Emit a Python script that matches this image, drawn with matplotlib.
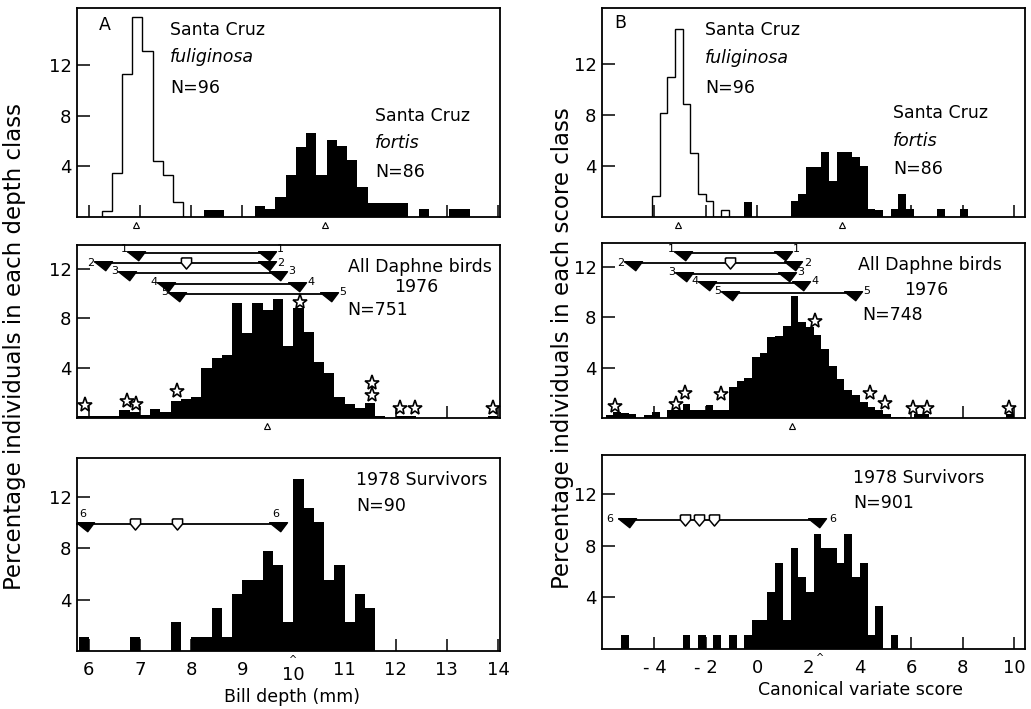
import numpy as np
import matplotlib.pyplot as plt
from matplotlib import transforms

W, H = 1031, 709
fig = plt.figure(figsize=(W / 100, H / 100), dpi=100)

# ---------------- data (percent of individuals per class) ----------------
# A: bill depth (mm), class width 0.2
a_fulig_start = 6.25
a_fulig = [0.5, 3.5, 11.3, 15.8, 13.1, 4.4, 3.3, 1.2]
a_fortis_start = 8.25
a_fortis = [0.55, 0.55, 0, 0, 0, 0.9, 0.6, 1.6, 3.3, 5.5, 6.6, 3.3, 6.1, 5.6,
            4.5, 2.4, 1.1, 1.1, 1.1, 1.1, 0, 0.6, 0, 0, 0.6, 0.6]
a_daphne_start = 5.6
a_daphne = [0.2, 0.2, 0.2, 0.2, 0.2, 0.67, 0.45, 0.27, 0.72, 0.5, 1.33, 1.55,
            1.65, 4.0, 4.8, 5.1, 9.2, 6.8, 9.2, 8.7, 9.6, 5.8, 8.8, 6.9, 4.5,
            3.6, 1.7, 1.15, 0.8, 1.2, 0.15, 0, 0.2, 0.2, 0, 0, 0, 0, 0, 0, 0, 0.2]
a_surv_start = 5.8
a_surv_counts = [1, 0, 0, 0, 0, 1, 0, 0, 0, 2, 0, 1, 1, 3, 1, 4, 5, 5, 7, 6, 2,
                 12, 10, 9, 5, 6, 2, 4, 3]
a_surv_n = 90

# B: canonical variate score, class width 0.3
b_fulig_start = -4.1
b_fulig = [1.67, 8.14, 11.0, 14.75, 8.87, 5.0, 1.79, 1.24, 0, 0.58]
b_fortis_start = -0.5
b_fortis = [1.18, 0, 0, 0, 0, 0, 1.23, 1.78, 3.94, 3.94, 5.1, 2.83, 5.1, 5.1,
            4.67, 3.99, 0.66, 0.58, 0, 0.66, 1.78, 0.66, 0, 0, 0, 0.66, 0, 0, 0.66]
b_daphne_start = -5.9
b_daphne = [0.2, 0.45, 0.4, 0.3, 0, 0.25, 0.45, 0, 0.65, 0.65, 1.1, 0.6, 0.65,
            1.0, 0.6, 0.6, 2.5, 2.9, 3.2, 4.85, 5.2, 6.45, 6.5, 7.3, 9.7, 7.6,
            7.25, 6.6, 5.5, 4.1, 3.1, 2.2, 1.8, 1.3, 0.85, 0.6, 0.3, 0.1, 0.1,
            0, 0.3, 0.3, 0, 0, 0, 0, 0, 0, 0, 0, 0, 0, 0.3]
b_surv_start = -5.3
b_surv_counts = [1, 0, 0, 0, 0, 0, 0, 0, 1, 0, 1, 0, 1, 0, 1, 0, 1, 2, 2, 4, 6,
                 2, 7, 5, 4, 8, 7, 7, 6, 8, 5, 6, 1, 3, 0, 1]
b_surv_n = 90

# selected / surviving birds (stars) on the 1976 histograms
a_star_x = [5.92, 6.74, 6.93, 7.72, 10.13, 11.53, 11.53, 12.09, 12.38, 13.91]
a_star_y = [1.06, 1.33, 1.14, 2.13, 9.3, 2.85, 1.86, 0.8, 0.8, 0.8]
b_star_x = [-5.53, -3.15, -2.8, -1.4, 2.25, 4.39, 4.97, 6.08, 6.6, 9.82]
b_star_y = [0.96, 1.15, 1.95, 1.9, 7.7, 1.95, 1.22, 0.82, 0.82, 0.82]

# ranges 1-5 on the 1976 panels, range 6 on the survivor panels
a_rng_id = ['1', '2', '3', '4', '5']
a_rng_y = [13.25, 12.45, 11.65, 10.8, 10.0]
a_rng_lo = [6.93, 6.28, 6.74, 7.51, 7.72]
a_rng_hi = [9.48, 9.48, 9.70, 10.08, 10.70]
a_rng_open = [7.91]
b_rng_id = ['1', '2', '3', '4', '5']
b_rng_y = [13.1, 12.35, 11.45, 10.7, 9.9]
b_rng_lo = [-2.87, -4.84, -2.86, -1.96, -1.05]
b_rng_hi = [1.0, 1.41, 1.15, 1.70, 3.72]
b_rng_open = [-1.05]
a_six = (9.9, 5.92, 9.70)
a_six_open = [6.9, 7.72]
b_six = (9.98, -5.07, 2.32)
b_six_open = [-2.81, -2.25, -1.68]

# class means (small triangles under axes)
a_mean_top = [6.93, 10.62]
a_mean_mid = [9.48]
b_mean_top = [-3.1, 3.29]
b_mean_mid = [1.37]

# ---------------- helpers ----------------
wedge = [(-1, 0.2), (1, 0.2), (0.25, -0.8), (-1, 0.2)]
openarrow = [(-0.55, 0.6), (0.55, 0.6), (0.55, 0.05), (0, -0.6), (-0.55, 0.05), (-0.55, 0.6)]
FS = 12.5
WMS = 13   # wedge size
OMS = 8    # open arrow size
LBL_DY = [4, 0, 2, 2, 2]   # vertical nudge (px) of the range numbers


def make_ax(l, t, r, b):
    return fig.add_axes([l / W, 1 - b / H, (r - l) / W, (b - t) / H])


def style(ax, xlim, ylim, xticks, labels):
    ax.set_xlim(*xlim)
    ax.set_ylim(*ylim)
    ax.set_yticks([4, 8, 12])
    ax.set_xticks(xticks)
    ax.tick_params(direction='in', length=9, width=1.1, labelsize=13, pad=4)
    ax.tick_params(axis='x', pad=7, labelbottom=labels)
    for s in ax.spines.values():
        s.set_linewidth(1.3)


def hist(ax, start, width, vals, filled):
    edges = start + width * np.arange(len(vals) + 1)
    if filled:
        ax.stairs(vals, edges, fill=True, color='black', lw=0)
    else:
        ax.stairs(vals, edges, fill=False, color='black', lw=1.0, baseline=0)


def means(ax, xs, off=8):
    tr = transforms.blended_transform_factory(ax.transData, ax.transAxes) + \
        transforms.ScaledTranslation(0, -off / 100, fig.dpi_scale_trans)
    ax.plot(xs, [0] * len(xs), ls='none', marker='^', ms=4, mfc='white',
            mec='black', mew=0.8, transform=tr, clip_on=False)


def ranges(ax, ids, ys, los, his):
    for i, y, lo, hi, dy in zip(ids, ys, los, his, LBL_DY):
        ax.plot([lo, hi], [y, y], color='black', lw=1.3)
        ax.plot([lo, hi], [y, y], ls='none', marker=wedge, ms=WMS, color='black')
        ax.annotate(i, (lo, y), xytext=(-12, dy), textcoords='offset pixels',
                    ha='center', va='center', fontsize=8)
        ax.annotate(i, (hi, y), xytext=(14, dy), textcoords='offset pixels',
                    ha='center', va='center', fontsize=8)


def stars(ax, xs, ys):
    ax.plot(xs, ys, ls='none', marker='*', ms=11, mfc='white',
            mec='black', mew=1.2, clip_on=False)


def ftxt(x, y, s, **kw):
    kw.setdefault('fontsize', FS)
    kw.setdefault('va', 'center')
    fig.text(x / W, 1 - y / H, s, **kw)


A_XL = (5.77, 14.04)
B_XL = (-6.04, 10.43)
a_ticks = list(range(6, 15))
b_ticks = list(range(-4, 11, 2))

# ---------------- panel A ----------------
ax = make_ax(77, 8, 500, 217)
hist(ax, a_fulig_start, 0.2, a_fulig, False)
hist(ax, a_fortis_start, 0.2, a_fortis, True)
style(ax, A_XL, (0, 16.5), a_ticks, False)
means(ax, a_mean_top)

ax = make_ax(77, 245, 500, 418)
hist(ax, a_daphne_start, 0.2, a_daphne, True)
style(ax, A_XL, (0, 13.9), a_ticks, False)
ranges(ax, a_rng_id, a_rng_y, a_rng_lo, a_rng_hi)
ax.plot(a_rng_open, [a_rng_y[1]], ls='none', marker=openarrow, ms=OMS,
        mfc='white', mec='black', mew=1.1)
stars(ax, a_star_x, a_star_y)
means(ax, a_mean_mid)

ax = make_ax(77, 458, 500, 651)
pct = np.array(a_surv_counts) * 100 / a_surv_n
hist(ax, a_surv_start, 0.2, pct, True)
style(ax, A_XL, (0, 15), a_ticks, True)
ax.set_xticklabels([str(t) for t in a_ticks])
ax.xaxis.get_major_ticks()[4].set_pad(11)
y6, lo6, hi6 = a_six
ax.plot([A_XL[0], hi6 + 0.15], [y6, y6], color='black', lw=1.3, clip_on=False)
ax.plot([lo6, hi6], [y6, y6], ls='none', marker=wedge, ms=WMS, color='black')
ax.plot(a_six_open, [y6] * len(a_six_open), ls='none', marker=openarrow, ms=OMS,
        mfc='white', mec='black', mew=1.1)
for xx in (lo6, hi6):
    ax.annotate('6', (xx, y6), xytext=(-2, 10), textcoords='offset pixels',
                ha='center', va='center', fontsize=8)
ax.annotate('^', (10.0, 0), xycoords=('data', 'axes fraction'), xytext=(0, -9),
            textcoords='offset pixels', ha='center', va='center', fontsize=7)

# ---------------- panel B ----------------
ax = make_ax(602, 8, 1025, 217)
hist(ax, b_fulig_start, 0.3, b_fulig, False)
hist(ax, b_fortis_start, 0.3, b_fortis, True)
style(ax, B_XL, (0, 16.4), b_ticks, False)
means(ax, b_mean_top)

ax = make_ax(602, 243, 1025, 418)
hist(ax, b_daphne_start, 0.3, b_daphne, True)
style(ax, B_XL, (0, 13.9), b_ticks, False)
ranges(ax, b_rng_id, b_rng_y, b_rng_lo, b_rng_hi)
ax.plot(b_rng_open, [b_rng_y[1]], ls='none', marker=openarrow, ms=OMS,
        mfc='white', mec='black', mew=1.1)
stars(ax, b_star_x, b_star_y)
means(ax, b_mean_mid)

ax = make_ax(602, 455, 1025, 649)
pct = np.array(b_surv_counts) * 100 / b_surv_n
hist(ax, b_surv_start, 0.3, pct, True)
style(ax, B_XL, (0, 15), b_ticks, True)
ax.set_xticklabels([str(t).replace('-', '- ') for t in b_ticks])
y6, lo6, hi6 = b_six
ax.plot([lo6 - 0.15, hi6 + 0.25], [y6, y6], color='black', lw=1.3)
ax.plot([lo6, hi6], [y6, y6], ls='none', marker=wedge, ms=WMS, color='black')
ax.plot(b_six_open, [y6] * len(b_six_open), ls='none', marker=openarrow, ms=OMS,
        mfc='white', mec='black', mew=1.1)
ax.annotate('6', (lo6, y6), xytext=(-17, 1), textcoords='offset pixels',
            ha='center', va='center', fontsize=8)
ax.annotate('6', (hi6, y6), xytext=(16, 1), textcoords='offset pixels',
            ha='center', va='center', fontsize=8)
ax.annotate('^', (2.45, 0), xycoords=('data', 'axes fraction'), xytext=(0, -9),
            textcoords='offset pixels', ha='center', va='center', fontsize=7)

# ---------------- text ----------------
ftxt(105, 25, 'A', ha='center')
ftxt(170, 30, 'Santa Cruz')
ftxt(170, 57, 'fuliginosa', style='italic')
ftxt(170, 88, 'N=96')
ftxt(375, 116, 'Santa Cruz')
ftxt(375, 143, 'fortis', style='italic')
ftxt(375, 172, 'N=86')
ftxt(420, 267, 'All Daphne birds', ha='center')
ftxt(416, 287, '1976', ha='center')
ftxt(347, 310, 'N=751')
ftxt(356, 480, '1978 Survivors')
ftxt(356, 506, 'N=90')

ftxt(620, 23, 'B', ha='center')
ftxt(705, 30, 'Santa Cruz')
ftxt(705, 58, 'fuliginosa', style='italic')
ftxt(705, 88, 'N=96')
ftxt(893, 113, 'Santa Cruz')
ftxt(893, 141, 'fortis', style='italic')
ftxt(893, 169, 'N=86')
ftxt(930, 265, 'All Daphne birds', ha='center')
ftxt(926, 290, '1976', ha='center')
ftxt(862, 315, 'N=748')
ftxt(853, 478, '1978 Survivors')
ftxt(853, 503, 'N=901')

ftxt(292, 697, 'Bill depth (mm)', ha='center')
ftxt(861, 690, 'Canonical variate score', ha='center')
ftxt(15, 346, 'Percentage individuals in each depth class', ha='center',
     rotation=90, fontsize=16.5)
ftxt(563, 348, 'Percentage individuals in each score class', ha='center',
     rotation=90, fontsize=16.5)

fig.savefig('out.png', dpi=100)
